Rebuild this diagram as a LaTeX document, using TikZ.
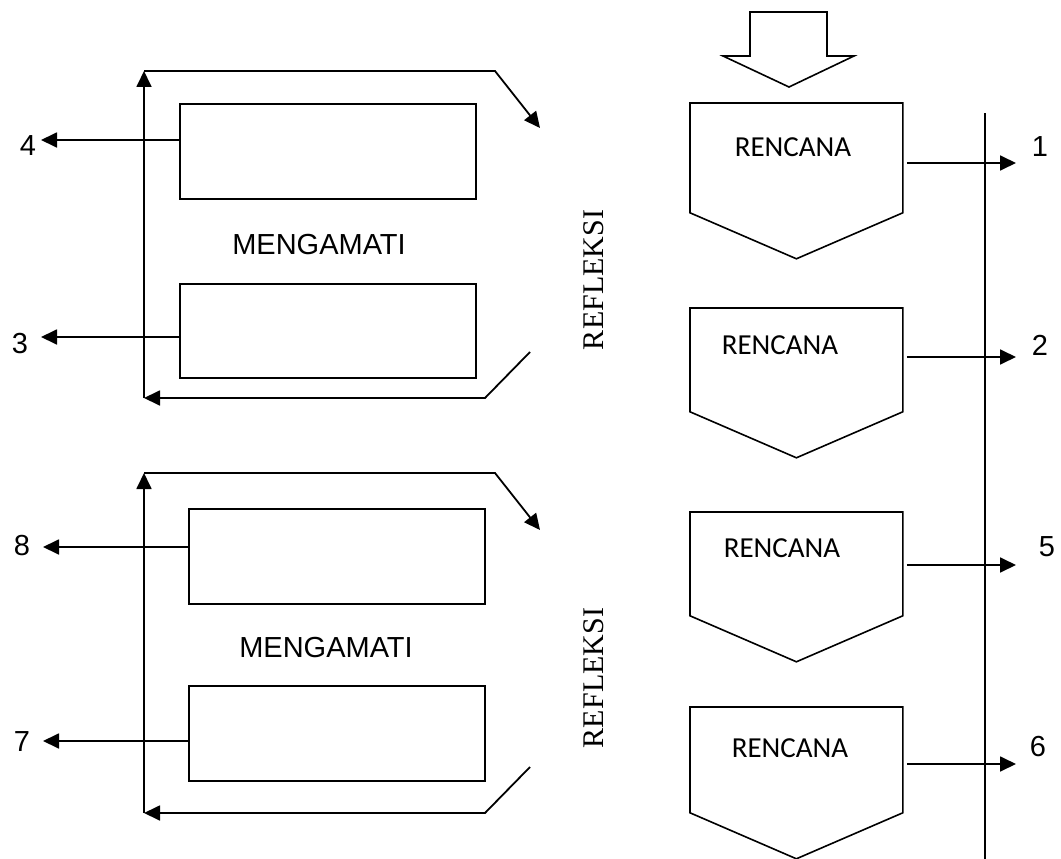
\documentclass[tikz,border=0pt]{standalone}
\usepackage{fontspec}
\newfontfamily\fArial{Liberation Sans}
\newfontfamily\fCal{Carlito}
\newfontfamily\fTimes{Liberation Serif}
\usetikzlibrary{arrows.meta,calc}
\begin{document}
\begin{tikzpicture}[x=1pt,y=-1pt,
  line width=1.8pt, line join=miter,
  conn/.style={draw,-{Triangle[length=16pt,width=15pt]}},
  obsbox/.style={draw,rectangle,inner sep=0pt,minimum width=296pt,minimum height=95pt,anchor=north west},
  planbox/.style={rectangle,inner sep=0pt,minimum width=211pt,minimum height=106pt,anchor=north west},
  plantext/.style={font=\fCal\fontsize{29}{34}\selectfont,inner sep=0pt},
  num/.style={font=\fArial\fontsize{29}{34}\selectfont,inner sep=0pt},
  obstext/.style={font=\fArial\fontsize{29}{34}\selectfont,inner sep=0pt},
  reftext/.style={font=\fTimes\fontsize{30}{34}\selectfont,inner sep=0pt,rotate=90}]
\useasboundingbox (0,0) rectangle (1061,859);

% top hollow arrow
\draw[line width=1.6pt] (750,12) -- (827,12) -- (827,56) -- (854,56) -- (789,87) -- (723,56) -- (750,56) -- cycle;

% vertical timeline
\coordinate (vt) at (985,113);
\coordinate (vb) at (985,859);
\draw (vt) -- (vb);

% RENCANA boxes
\foreach \i/\ty/\h/\ay/\lx/\ly/\lab/\tx/\tyy in {1/103/108/163/1040/147/1/793/147, 2/308/102/357/1040/345/2/780/345, 3/512/102/565/1047/547/5/782/548, 4/707/104/764/1038/747/6/790/748}{
  \node[planbox,minimum height=\h pt] (p\i) at (690,\ty) {};
  \draw[line width=1.6pt] (p\i.north west) -- (p\i.north east) -- (p\i.south east) -- ($(p\i.south)+(0,46)$) -- (p\i.south west) -- cycle;
  \node[plantext] (t\i) at (\tx,\tyy) {RENCANA};
  \coordinate (e\i) at (1016,\ay);
  \draw[conn] ($(p\i.east|-e\i)+(4,0)$) -- (e\i);
  \node[num] (n\i) at (\lx,\ly) {\lab};
}

% Upper observation block
\node[obsbox] (r1) at (179,103) {};
\node[obsbox,minimum height=94pt] (r2) at (179,283) {};
\node[obstext] (m1) at (319,245) {MENGAMATI};
\coordinate (c4) at (41,140);
\coordinate (c3) at (41,337);
\draw[conn] (r1.west|-c4) -- (c4);
\draw[conn] (r2.west|-c3) -- (c3);
\node[num] (n4) at (28,146) {4};
\node[num] (n3) at (20,344) {3};
\coordinate (a1) at (144,398);
\coordinate (a2) at (144,71);
\coordinate (a3) at (495,71);
\coordinate (a4) at (540,128);
\coordinate (a5) at (530,352);
\coordinate (a6) at (485,398);
\draw[conn] (a1) -- (a2);
\draw[conn] (a2) -- (a3) -- (a4);
\draw[conn] (a5) -- (a6) -- (a1);
\node[reftext] (rf1) at (594,280) {REFLEKSI};

% Lower observation block
\node[obsbox] (r3) at (188,508) {};
\node[obsbox] (r4) at (188,685) {};
\node[obstext] (m2) at (326,648) {MENGAMATI};
\coordinate (c8) at (43,547);
\coordinate (c7) at (43,741);
\draw[conn] (r3.west|-c8) -- (c8);
\draw[conn] (r4.west|-c7) -- (c7);
\node[num] (n8) at (22,546) {8};
\node[num] (n7) at (22,742) {7};
\coordinate (b1) at (144,813);
\coordinate (b2) at (144,473);
\coordinate (b3) at (495,473);
\coordinate (b4) at (540,530);
\coordinate (b5) at (530,767);
\coordinate (b6) at (485,813);
\draw[conn] (b1) -- (b2);
\draw[conn] (b2) -- (b3) -- (b4);
\draw[conn] (b5) -- (b6) -- (b1);
\node[reftext] (rf2) at (594,678) {REFLEKSI};
\end{tikzpicture}
\end{document}
